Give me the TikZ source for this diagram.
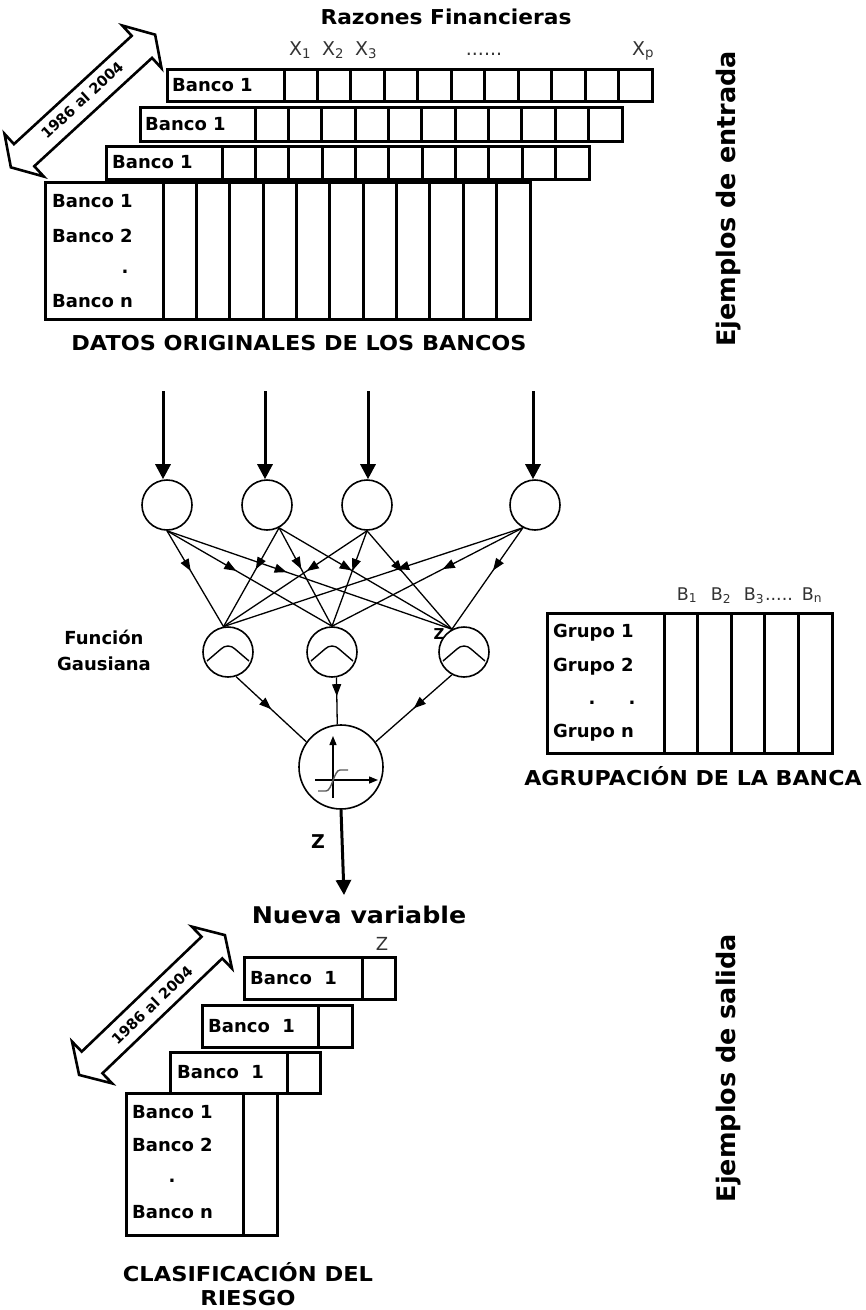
\documentclass[tikz,border=0pt]{standalone}
\usepackage{fontspec}
\setmainfont{DejaVu Sans}
\usepackage{graphicx}
\usetikzlibrary{arrows.meta,decorations.markings,calc}
\newcommand\fsz[1]{\fontsize{#1}{#1}\selectfont}
\newcommand\wx[2]{\scalebox{#1}[1]{#2}}
\begin{document}
\begin{tikzpicture}[x=1pt,y=-1pt,
  tbl/.style={line width=3pt, line join=miter},
  rowlbl/.style={anchor=west, inner sep=0pt, font=\fsz{18}\bfseries},
  head/.style={inner sep=0pt, font=\fsz{20.5}\bfseries},
  idx/.style={inner sep=0pt, anchor=base, font=\fsz{19}, text=black!80},
  neuron/.style={circle, draw, line width=1.6pt, fill=white, minimum size=50pt, inner sep=0pt},
  conn/.style={line width=1.3pt, postaction={decorate},
     decoration={markings, mark=at position #1 with {\arrow{Triangle[length=12pt,width=9pt]}}}},
  conn/.default=0.42,
  bigarrow/.style={line width=3pt, -{Triangle[length=15pt,width=15pt]}},
  dblarrow/.style={line width=2.6pt, line join=miter, fill=white},
  yrtext/.style={inner sep=0pt, font=\fsz{14.5}\bfseries},
  side/.style={inner sep=0pt, font=\fsz{25.5}\bfseries, rotate=90},
]
\useasboundingbox (0,0) rectangle (866,1310);

% ---------- title and index labels ----------
\node[head] (title) at (446,17) {\wx{1.06}{Razones Financieras}};
\node[idx] (x1) at (300,55) {X\textsubscript{1}};
\node[idx] (x2) at (333,55) {X\textsubscript{2}};
\node[idx] (x3) at (366,55) {X\textsubscript{3}};
\node[idx] (xdots) at (484,55) {......};
\node[idx] (xp) at (643,55) {X\textsubscript{p}};

% ---------- input data tables ----------
\foreach \xa/\xb/\ya/\yb/\xl in {167/652/69/101/284, 140/622/107/141/255, 106/589/146/179/222, 45/530/182/319/163} {
  \draw[tbl] (\xa,\ya) rectangle (\xb,\yb);
  \foreach \k in {0,...,10}
    \draw[tbl] ({\xl+\k*(\xb-\xl)/11},\ya) -- ({\xl+\k*(\xb-\xl)/11},\yb);
}
\node[rowlbl] (r1) at (172,85) {Banco 1};
\node[rowlbl] (r2) at (145,124) {Banco 1};
\node[rowlbl] (r3) at (112,162.5) {Banco 1};
\node[rowlbl] (m1) at (52,201) {Banco 1};
\node[rowlbl] (m2) at (52,236) {Banco 2};
\node[inner sep=0pt, font=\fsz{18}\bfseries] (mdot) at (125,272) {.};
\node[rowlbl] (mn) at (52,301) {Banco n};
\node[head] (datos) at (299,343.5) {\wx{1.09}{DATOS ORIGINALES DE LOS BANCOS}};

% ---------- year double arrow (top) ----------
\begin{scope}[shift={(83,101)}, rotate=42.6]
  \draw[dblarrow] (-98,0) -- (-80,-29) -- (-80,-15) -- (80,-15) -- (80,-29) -- (98,0)
     -- (80,29) -- (80,15) -- (-80,15) -- (-80,29) -- cycle;
\end{scope}
\node[yrtext, rotate=42.6] (yr1) at (82,100) {1986 al 2004};

\node[side] (entrada) at (729,199) {Ejemplos de entrada};

% ---------- network ----------
\node[neuron] (i1) at (167,505) {};
\node[neuron] (i2) at (267,505) {};
\node[neuron] (i3) at (367,505) {};
\node[neuron] (i4) at (535,505) {};
\coordinate (a1) at (163,391);
\coordinate (a2) at (265,391);
\coordinate (a3) at (368,391);
\coordinate (a4) at (533,391);
\foreach \n in {1,2,3,4} \draw[bigarrow] (a\n) -- (a\n |- i\n.north);

\node[neuron] (h1) at (228,652) {};
\node[neuron] (h2) at (332,652) {};
\node[neuron] (h3) at (464,652) {};
\foreach \h in {h1,h2,h3}
  \draw[line width=1.4pt, shift={(\h.center)}] (-21,9) -- (-7,-3) .. controls (-3,-7) and (3,-7) .. (7,-3) -- (21,9);

\foreach \s/\a in {i1/south, i2/-62, i3/south, i4/-118}
  \foreach \t/\b in {h1/100, h2/north, h3/118}
    \draw[conn] (\s.\a) -- (\t.\b);

\node[neuron, minimum size=84pt] (o) at (341,767) {};
\draw[line width=1.4pt, -{Triangle[length=9pt,width=7pt]}, shift={(o.center)}] (-8,31) -- (-8,-31);
\draw[line width=1.4pt, -{Triangle[length=9pt,width=7pt]}, shift={(o.center)}] (-26,13) -- (37,13);
\draw[line width=1.4pt, black!65, shift={(o.center)}] (-23,24) -- (-15,24) .. controls (-9,24) and (-7,3) .. (-1,3) -- (7,3);

\draw[conn=0.5] (h1.-72) -- (o.144);
\draw[conn=0.4] (h2.-80) -- (o.95);
\draw[conn=0.5] (h3.-118) -- (o.36);

\node[inner sep=0pt, font=\fsz{15}\bfseries] (zstray) at (439,634) {Z};
\node[inner sep=0pt, font=\fsz{18}\bfseries] (fun1) at (104,637) {Función};
\node[inner sep=0pt, font=\fsz{18}\bfseries] (fun2) at (104,664) {Gausiana};

\coordinate (zend) at (344,895);
\draw[bigarrow] (o.south) -- (zend);
\node[inner sep=0pt, font=\fsz{19}\bfseries] (zlab) at (318,842) {Z};
\node[inner sep=0pt, font=\fsz{23}\bfseries] (nueva) at (359,915) {\wx{1.1}{Nueva variable}};

% ---------- grouping table ----------
\draw[tbl] (547,613) rectangle (832,753);
\foreach \k in {0,...,4} \draw[tbl] ({664+\k*33.6},613) -- ({664+\k*33.6},753);
\node[rowlbl] (g1) at (553,633) {Grupo 1};
\node[rowlbl] (g2) at (553,667) {Grupo 2};
\node[inner sep=0pt, font=\fsz{18}\bfseries] (gd1) at (592,703) {.};
\node[inner sep=0pt, font=\fsz{18}\bfseries] (gd2) at (632,703) {.};
\node[rowlbl] (gn) at (553,733) {Grupo n};
\node[idx, font=\fsz{17.5}] (b1) at (687,600) {B\textsubscript{1}};
\node[idx, font=\fsz{17.5}] (b2) at (721,600) {B\textsubscript{2}};
\node[idx, font=\fsz{17.5}] (b3) at (754,600) {B\textsubscript{3}};
\node[idx, font=\fsz{17.5}] (bdots) at (779,600) {.....};
\node[idx, font=\fsz{17.5}] (bn) at (812,600) {B\textsubscript{n}};
\node[head] (agrup) at (693,776) {\wx{1.08}{AGRUPACIÓN DE LA BANCA}};

% ---------- output tables ----------
\node[idx, font=\fsz{18}] (zcol) at (382,950) {Z};
\draw[tbl] (244,957) rectangle (395,999); \draw[tbl] (362,957) -- (362,999);
\draw[tbl] (202,1005) rectangle (352,1047); \draw[tbl] (318,1005) -- (318,1047);
\draw[tbl] (170,1052) rectangle (320,1093); \draw[tbl] (287,1052) -- (287,1093);
\draw[tbl] (126,1093) rectangle (277,1235); \draw[tbl] (243,1093) -- (243,1235);
\node[rowlbl] (s1) at (250,978) {Banco\ \ 1};
\node[rowlbl] (s2) at (208,1026) {Banco\ \ 1};
\node[rowlbl] (s3) at (177,1072.5) {Banco\ \ 1};
\node[rowlbl] (sm1) at (132,1112) {Banco 1};
\node[rowlbl] (sm2) at (132,1145) {Banco 2};
\node[inner sep=0pt, font=\fsz{18}\bfseries] (smdot) at (172,1181) {.};
\node[rowlbl] (smn) at (132,1212) {Banco n};

\begin{scope}[shift={(152,1005)}, rotate=43.8]
  \draw[dblarrow] (-101,0) -- (-83,-29) -- (-83,-15) -- (83,-15) -- (83,-29) -- (101,0)
     -- (83,29) -- (83,15) -- (-83,15) -- (-83,29) -- cycle;
\end{scope}
\node[yrtext, rotate=43.8] (yr2) at (152,1005) {1986 al 2004};

\node[side] (salida) at (729,1068) {Ejemplos de salida};
\node[head] (clas1) at (248,1272) {\wx{1.1}{CLASIFICACIÓN DEL}};
\node[head] (clas2) at (248,1298) {\wx{1.1}{RIESGO}};
\end{tikzpicture}
\end{document}
